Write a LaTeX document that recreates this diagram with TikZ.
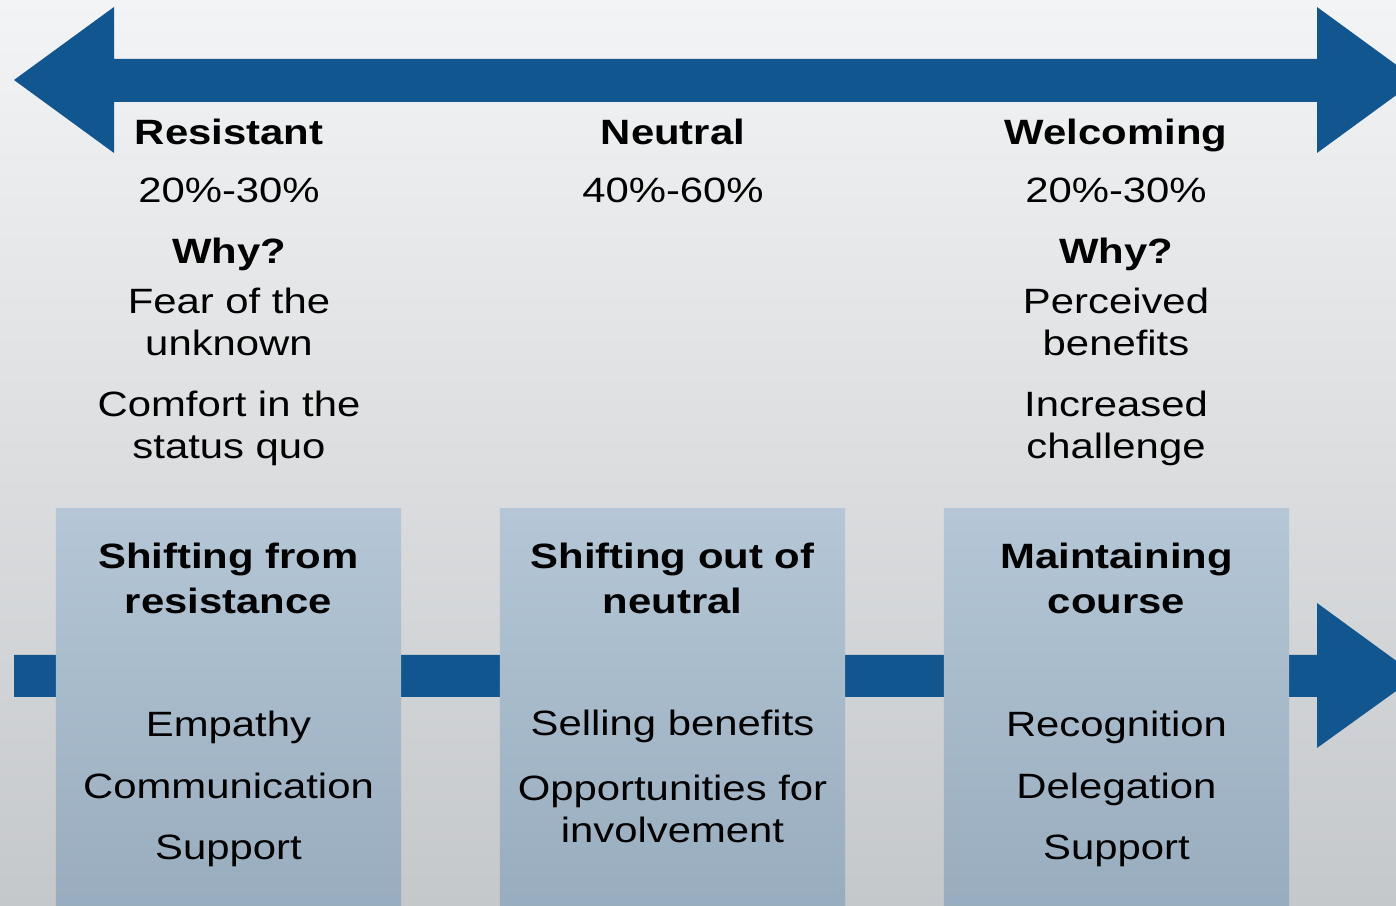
\documentclass[tikz,border=0pt]{standalone}
\usepackage{fontspec}
\setmainfont{Liberation Sans}[FakeStretch=1.19]
\usepackage{xcolor}
\usetikzlibrary{positioning}
\definecolor{arrowblue}{RGB}{17,86,143}
\definecolor{boxtop}{RGB}{181,199,214}
\definecolor{boxbot}{RGB}{150,171,189}
\definecolor{bgtop}{RGB}{243,244,245}
\definecolor{bgbot}{RGB}{197,200,203}

\begin{document}
\begin{tikzpicture}[x=0.01cm, y=0.01cm,
    txt/.style={anchor=base, inner sep=0pt, align=center, font=\fontsize{10}{12.2}\selectfont},
    headtxt/.style={txt, font=\fontsize{10}{12.8}\selectfont\bfseries},
    stage/.style={anchor=north, inner sep=0pt, minimum width=3.45cm, minimum height=4.2cm,
        top color=boxtop, bottom color=boxbot}]
    \useasboundingbox (0,0) rectangle (1396,906);
    \clip (0,0) rectangle (1396,906);
    \shade[top color=bgtop, bottom color=bgbot] (0,0) rectangle (1396,906);

    % double arrow on top
    \fill[arrowblue] (14,826) -- (114,899) -- (114,847) -- (1317,847) -- (1317,899) -- (1417,826)
        -- (1317,753) -- (1317,804) -- (114,804) -- (114,753) -- cycle;

    % arrow behind the boxes
    \fill[arrowblue] (14,251) -- (1317,251) -- (1317,303) -- (1417,230) -- (1317,158)
        -- (1317,209) -- (14,209) -- cycle;

    % multi-line nodes sit on the baseline of their last line
    \node[headtxt] (res) at (229,761) {Resistant};
    \node[txt] (respct) at (229,703) {20\%-30\%};
    \node[headtxt] (reswhy) at (229,642) {Why?};
    \node[txt] (resfear) at (229,550) {Fear of the\\unknown};
    \node[txt] (rescomf) at (229,447) {Comfort in the\\status quo};

    \node[headtxt] (neu) at (673,761) {Neutral};
    \node[txt] (neupct) at (673,703) {40\%-60\%};

    \node[headtxt] (wel) at (1116,761) {Welcoming};
    \node[txt] (welpct) at (1116,703) {20\%-30\%};
    \node[headtxt] (welwhy) at (1116,642) {Why?};
    \node[txt] (welben) at (1116,550) {Perceived\\benefits};
    \node[txt] (welchal) at (1116,447) {Increased\\challenge};

    \node[stage] (resbox) at (228.5,398) {};
    \node[stage] (neubox) at (672.5,398) {};
    \node[stage] (welbox) at (1116.5,398) {};

    \node[headtxt] (resshift) at (228.5,292) {Shifting from\\resistance};
    \node[txt] (resemp) at (228.5,169) {Empathy};
    \node[txt] (rescomm) at (228.5,107) {Communication};
    \node[txt] (ressup) at (228.5,46) {Support};

    \node[headtxt] (neushift) at (672.5,292) {Shifting out of\\neutral};
    \node[txt] (neusell) at (672.5,170) {Selling benefits};
    \node[txt] (neuopp) at (672.5,63) {Opportunities for\\involvement};

    \node[headtxt] (welkeep) at (1116.5,292) {Maintaining\\course};
    \node[txt] (welrec) at (1116.5,169) {Recognition};
    \node[txt] (weldel) at (1116.5,107) {Delegation};
    \node[txt] (welsup) at (1116.5,46) {Support};
\end{tikzpicture}
\end{document}
